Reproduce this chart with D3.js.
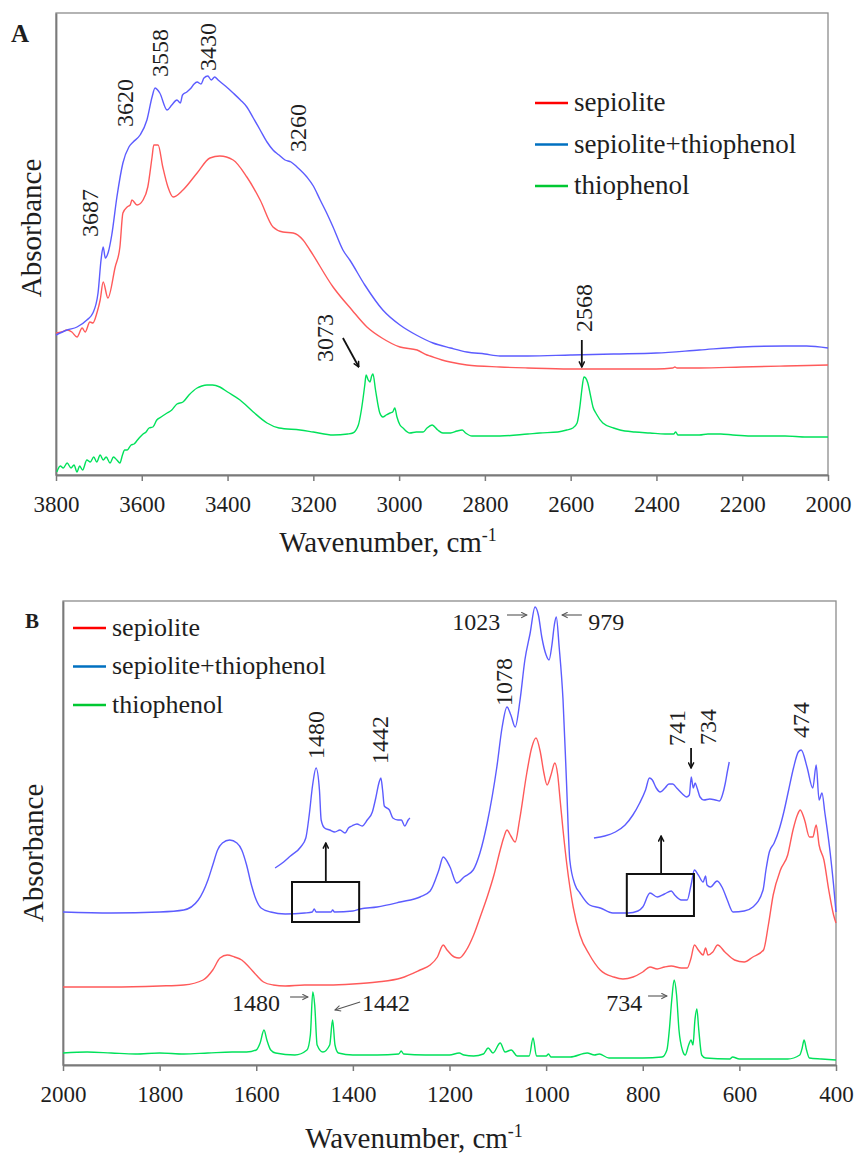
<!DOCTYPE html>
<html>
<head>
<meta charset="utf-8">
<script src="https://cdn.jsdelivr.net/npm/d3@7"></script>
<style>
  body { margin: 0; background: #fff; }
</style>
</head>
<body>
<svg id="chart" width="859" height="1153"></svg>
<script>
'use strict';

// series names and colours
const seriesNames = ['sepiolite', 'sepiolite+thiophenol', 'thiophenol'];
const lineColors = ['#ff5a5a', '#5c5cff', '#00e15a'];
const legendColors = ['#ff0000', '#0070c0', '#00c832'];

const ticksA = [3800, 3600, 3400, 3200, 3000, 2800, 2600, 2400, 2200, 2000];
const ticksB = [2000, 1800, 1600, 1400, 1200, 1000, 800, 600, 400];

// panel A: [wavenumber, absorbance a.u.]
const redA = [[3800,1.42],[3787,1.43],[3774,1.45],[3763,1.43],[3751,1.38],[3739,1.47],[3732,1.43],[3721,1.53],[3714,1.52],[3704,1.63],
  [3697,1.75],[3690,1.93],[3679,1.77],[3662,2.08],[3651,2.28],[3644,2.62],[3634,2.68],[3627,2.70],[3623,2.75],[3611,2.70],[3597,2.75],
  [3586,2.88],[3576,3.18],[3572,3.30],[3562,3.30],[3551,3.08],[3539,2.88],[3527,2.78],[3504,2.85],[3471,3.02],[3441,3.17],[3418,3.19],
  [3387,3.15],[3355,2.98],[3324,2.75],[3294,2.48],[3271,2.43],[3247,2.42],[3224,2.35],[3208,2.25],[3154,1.88],[3110,1.65],[3075,1.48],
  [3040,1.37],[2998,1.28],[2958,1.25],[2935,1.20],[2928,1.19],[2900,1.15],[2881,1.13],[2842,1.10],[2765,1.08],[2700,1.07],[2602,1.06],
  [2500,1.06],[2401,1.06],[2362,1.07],[2357,1.08],[2352,1.07],[2300,1.07],[2201,1.08],[2100,1.09],[2000,1.10]];

const blueA = [[3800,1.40],[3774,1.45],[3751,1.48],[3728,1.55],[3714,1.62],[3702,1.82],[3695,2.15],[3690,2.28],[3685,2.17],[3678,2.23],
  [3670,2.40],[3658,2.78],[3644,3.12],[3630,3.28],[3620,3.33],[3604,3.40],[3588,3.55],[3576,3.78],[3569,3.87],[3563,3.85],[3558,3.82],
  [3541,3.65],[3530,3.70],[3518,3.75],[3510,3.72],[3505,3.80],[3495,3.83],[3485,3.87],[3478,3.91],[3471,3.93],[3462,3.91],[3455,3.97],
  [3446,3.99],[3438,3.95],[3430,3.98],[3422,3.95],[3405,3.89],[3387,3.82],[3370,3.75],[3355,3.68],[3340,3.57],[3324,3.45],[3308,3.33],
  [3294,3.25],[3280,3.20],[3266,3.15],[3252,3.13],[3238,3.08],[3215,2.98],[3200,2.89],[3184,2.75],[3170,2.63],[3154,2.48],[3131,2.25],
  [3115,2.15],[3080,1.90],[3038,1.65],[2998,1.50],[2960,1.40],[2921,1.32],[2880,1.27],[2842,1.23],[2800,1.21],[2765,1.19],[2700,1.19],
  [2600,1.20],[2500,1.21],[2400,1.22],[2300,1.25],[2200,1.28],[2100,1.29],[2050,1.29],[2000,1.27]];

const greenA = [[3798,0.03],[3790,0.09],[3783,0.07],[3774,0.12],[3765,0.07],[3758,0.10],[3751,0.03],[3745,0.09],[3738,0.05],[3728,0.15],
  [3720,0.13],[3712,0.18],[3705,0.13],[3697,0.20],[3690,0.15],[3683,0.18],[3674,0.12],[3666,0.18],[3658,0.15],[3651,0.12],[3645,0.20],
  [3640,0.25],[3634,0.25],[3625,0.30],[3618,0.31],[3610,0.35],[3604,0.38],[3597,0.41],[3590,0.43],[3583,0.47],[3574,0.48],[3565,0.55],
  [3555,0.58],[3541,0.62],[3530,0.65],[3518,0.71],[3504,0.73],[3490,0.80],[3471,0.87],[3460,0.89],[3448,0.90],[3435,0.90],[3418,0.88],
  [3400,0.83],[3371,0.75],[3340,0.63],[3308,0.52],[3280,0.47],[3231,0.45],[3200,0.43],[3154,0.40],[3120,0.41],[3108,0.42],[3095,0.50],
  [3088,0.65],[3080,0.90],[3077,1.00],[3072,0.95],[3068,0.93],[3064,0.99],[3061,1.01],[3055,0.85],[3045,0.62],[3038,0.58],[3030,0.60],
  [3021,0.62],[3015,0.63],[3010,0.67],[3005,0.58],[2998,0.50],[2991,0.47],[2975,0.42],[2960,0.43],[2944,0.43],[2935,0.47],[2923,0.50],
  [2910,0.45],[2898,0.42],[2880,0.42],[2865,0.44],[2853,0.45],[2845,0.42],[2830,0.39],[2800,0.39],[2765,0.39],[2700,0.41],[2672,0.42],
  [2630,0.43],[2609,0.45],[2595,0.47],[2585,0.52],[2578,0.70],[2574,0.85],[2569,0.98],[2565,0.97],[2560,0.92],[2554,0.80],[2548,0.68],
  [2540,0.61],[2525,0.52],[2500,0.47],[2485,0.45],[2450,0.43],[2415,0.42],[2380,0.41],[2360,0.41],[2355,0.43],[2350,0.40],[2338,0.40],
  [2300,0.40],[2280,0.41],[2250,0.41],[2222,0.40],[2180,0.39],[2142,0.39],[2100,0.39],[2050,0.38],[2000,0.38]];

// panel B
const redB = [[2000,0.78],[1900,0.78],[1800,0.79],[1750,0.80],[1710,0.85],[1690,0.95],[1675,1.07],[1660,1.10],[1645,1.08],[1630,1.05],
  [1615,0.98],[1600,0.90],[1585,0.83],[1565,0.80],[1540,0.79],[1500,0.80],[1450,0.80],[1400,0.81],[1350,0.83],[1300,0.87],[1261,0.95],
  [1240,1.00],[1225,1.08],[1213,1.20],[1205,1.15],[1190,1.08],[1180,1.07],[1165,1.15],[1150,1.30],[1135,1.50],[1122,1.68],[1108,1.90],
  [1095,2.15],[1088,2.27],[1081,2.35],[1073,2.29],[1064,2.23],[1055,2.45],[1040,2.92],[1030,3.17],[1021,3.27],[1012,3.13],[1005,2.93],
  [998,2.80],[990,2.90],[982,3.02],[976,2.90],[971,2.65],[965,2.35],[957,2.00],[944,1.58],[930,1.30],[910,1.10],[888,0.95],[860,0.88],
  [841,0.86],[820,0.88],[800,0.93],[785,0.98],[770,0.96],[755,0.98],[741,0.99],[720,0.97],[708,0.97],[700,1.07],[693,1.20],[685,1.15],
  [675,1.10],[670,1.17],[665,1.10],[655,1.13],[645,1.20],[630,1.13],[610,1.05],[590,1.03],[572,1.08],[550,1.15],[540,1.40],[530,1.70],
  [515,1.95],[500,2.10],[489,2.35],[480,2.50],[474,2.55],[465,2.45],[455,2.28],[448,2.28],[441,2.40],[435,2.20],[425,2.05],[415,1.75],
  [405,1.50],[400,1.42]];

const blueB = [[2000,1.53],[1900,1.52],[1800,1.53],[1750,1.55],[1720,1.65],[1700,1.85],[1690,2.00],[1680,2.15],[1670,2.22],[1655,2.25],
  [1640,2.22],[1630,2.15],[1620,2.00],[1610,1.80],[1600,1.65],[1590,1.57],[1570,1.53],[1540,1.51],[1500,1.52],[1484,1.53],[1480,1.56],
  [1476,1.53],[1445,1.53],[1442,1.55],[1438,1.53],[1400,1.54],[1385,1.56],[1350,1.58],[1302,1.63],[1261,1.68],[1240,1.74],[1222,1.95],
  [1213,2.08],[1199,1.98],[1185,1.82],[1170,1.88],[1151,1.95],[1137,2.12],[1122,2.42],[1102,2.98],[1091,3.38],[1081,3.58],[1073,3.50],
  [1064,3.38],[1054,3.65],[1044,4.05],[1033,4.32],[1023,4.58],[1016,4.50],[1009,4.28],[1000,4.10],[994,4.05],[988,4.20],[983,4.40],
  [979,4.48],[973,4.18],[965,3.65],[958,2.85],[951,2.05],[940,1.80],[930,1.72],[910,1.60],[888,1.57],[862,1.52],[830,1.52],[810,1.54],
  [800,1.58],[785,1.72],[770,1.68],[755,1.71],[741,1.74],[734,1.70],[720,1.65],[708,1.65],[700,1.80],[693,1.95],[685,1.90],[675,1.83],
  [670,1.89],[667,1.80],[660,1.78],[646,1.84],[635,1.77],[625,1.65],[613,1.53],[590,1.54],[572,1.58],[551,1.75],[545,1.95],[538,2.13],
  [528,2.22],[518,2.35],[508,2.53],[498,2.75],[488,2.97],[478,3.13],[472,3.15],[460,2.98],[448,2.77],[441,3.00],[435,2.65],[429,2.72],
  [423,2.52],[412,2.12],[405,1.80],[400,1.53]];

const greenB = [[2000,0.12],[1950,0.13],[1900,0.12],[1850,0.11],[1800,0.12],[1750,0.11],[1700,0.12],[1650,0.13],[1620,0.13],[1600,0.15],
  [1592,0.22],[1584,0.35],[1578,0.25],[1570,0.15],[1560,0.12],[1520,0.10],[1495,0.15],[1488,0.30],[1483,0.73],[1479,0.60],[1474,0.20],
  [1462,0.13],[1448,0.20],[1442,0.45],[1437,0.20],[1430,0.12],[1400,0.10],[1350,0.10],[1305,0.11],[1300,0.14],[1295,0.11],[1250,0.10],
  [1200,0.10],[1180,0.12],[1170,0.10],[1150,0.09],[1130,0.11],[1120,0.17],[1110,0.12],[1095,0.22],[1085,0.13],[1072,0.15],[1060,0.09],
  [1035,0.09],[1027,0.27],[1020,0.09],[1000,0.09],[995,0.11],[990,0.08],[950,0.08],[915,0.12],[900,0.10],[890,0.11],[870,0.07],[800,0.07],
  [760,0.08],[750,0.15],[745,0.35],[740,0.65],[735,0.85],[730,0.70],[725,0.35],[718,0.15],[712,0.10],[705,0.20],[700,0.25],[696,0.20],
  [692,0.45],[688,0.56],[684,0.35],[678,0.10],[670,0.07],[620,0.06],[614,0.08],[600,0.06],[500,0.06],[475,0.10],[470,0.17],[466,0.25],
  [461,0.15],[455,0.07],[430,0.06],[400,0.05]];

// magnified insets of the sepiolite+thiophenol curve (relative units)
const insetB1 = [[1504,0.02],[1499,0.08],[1495,0.14],[1489,0.23],[1486,0.32],[1484,0.55],[1482,0.85],[1480,1.02],[1478,0.80],[1477,0.50],
  [1475,0.42],[1472,0.40],[1469,0.38],[1466,0.40],[1463,0.37],[1461,0.42],[1459,0.44],[1456,0.46],[1453,0.44],[1450,0.50],[1447,0.58],
  [1445,0.72],[1443,0.88],[1442,0.92],[1441,0.80],[1440,0.64],[1437,0.60],[1435,0.52],[1432,0.50],[1430,0.50],[1428,0.44],[1426,0.50],
  [1425,0.52]];
const insetB2 = [[842,0.02],[831,0.04],[820,0.08],[810,0.15],[802,0.25],[795,0.37],[789,0.50],[785,0.62],[782,0.60],[778,0.52],
  [774,0.48],[769,0.52],[765,0.56],[761,0.56],[757,0.52],[751,0.46],[747,0.43],[744,0.45],[742,0.63],[740,0.52],[738,0.57],[736,0.52],
  [733,0.43],[729,0.40],[723,0.41],[717,0.40],[713,0.39],[710,0.45],[707,0.57],[705,0.68],[703,0.78]];

const svg = d3.select('#chart');
const fontFam = '"Liberation Serif", "Times New Roman", serif';

function serif(sel, size) {
  return sel.style('font-family', fontFam).style('font-size', size + 'px').style('fill', '#1e1e1e');
}

const defs = svg.append('defs');
[['arrowBlack', '#111', 1.6], ['arrowGray', '#555', 1.1]].forEach(function (m) {
  defs.append('marker').attr('id', m[0]).attr('viewBox', '0 0 10 10').attr('refX', 9).attr('refY', 5)
    .attr('markerWidth', 7).attr('markerHeight', 7).attr('markerUnits', 'userSpaceOnUse').attr('orient', 'auto')
    .append('path').attr('d', 'M1,1 L9,5 L1,9').attr('fill', 'none').attr('stroke', m[1]).attr('stroke-width', m[2] * 1.3);
});

function drawPanel(o) {
  const x = d3.scaleLinear().domain(o.xDomain).range([o.left, o.right]);
  const y = d3.scaleLinear().domain([0, o.yMax]).range([o.bottom, o.top]);
  const g = svg.append('g');

  g.append('rect').attr('x', o.left).attr('y', o.top).attr('width', o.right - o.left).attr('height', o.bottom - o.top)
    .attr('fill', 'none').attr('stroke', '#8c8c8c').attr('stroke-width', 1.3);

  const ax = g.append('g').attr('transform', 'translate(0,' + o.bottom + ')')
    .call(d3.axisBottom(x).tickValues(o.ticks).tickFormat(d3.format('d')).tickSize(6).tickSizeOuter(0).tickPadding(15));
  ax.select('.domain').attr('stroke', '#7a7a7a').attr('stroke-width', 1.8);
  ax.selectAll('.tick line').attr('stroke', '#7a7a7a').attr('stroke-width', 1.5);
  serif(ax.selectAll('.tick text'), 23);

  const ay = g.append('g').attr('transform', 'translate(' + o.left + ',0)')
    .call(d3.axisLeft(y).tickValues([]).tickSizeOuter(0));
  ay.select('.domain').attr('stroke', '#7a7a7a').attr('stroke-width', 1.8);

  const line = d3.line().x(function (d) { return x(d[0]); }).y(function (d) { return y(d[1]); }).curve(d3.curveMonotoneX);
  [2, 0, 1].forEach(function (i) {
    g.append('path').datum(o.series[i]).attr('d', line).attr('fill', 'none')
      .attr('stroke', lineColors[i]).attr('stroke-width', 1.4).attr('stroke-linejoin', 'round');
  });

  // insets
  (o.insets || []).forEach(function (ins) {
    const xi = d3.scaleLinear().domain(ins.domain).range([x(ins.from), x(ins.to)]);
    const yi = d3.scaleLinear().domain([0, 1]).range([y(ins.base), y(ins.base + 1)]);
    const li = d3.line().x(function (d) { return xi(d[0]); }).y(function (d) { return yi(d[1]); }).curve(d3.curveMonotoneX);
    g.append('path').datum(ins.data).attr('d', li).attr('fill', 'none').attr('stroke', lineColors[1]).attr('stroke-width', 1.4);
  });

  (o.boxes || []).forEach(function (b) {
    g.append('rect').attr('x', x(b.w1)).attr('y', y(b.v1)).attr('width', x(b.w2) - x(b.w1)).attr('height', y(b.v2) - y(b.v1))
      .attr('fill', 'none').attr('stroke', '#111').attr('stroke-width', 2);
  });

  o.arrows.forEach(function (a) {
    g.append('line').attr('x1', x(a.w1)).attr('y1', y(a.v1)).attr('x2', x(a.w2)).attr('y2', y(a.v2))
      .attr('stroke', a.gray ? '#555' : '#111').attr('stroke-width', a.gray ? 1.1 : 1.8)
      .attr('marker-end', a.gray ? 'url(#arrowGray)' : 'url(#arrowBlack)');
  });

  o.labels.forEach(function (l) {
    const t = serif(g.append('text'), 24).attr('dy', '0.35em').text(l.t);
    if (l.rot) {
      t.attr('transform', 'translate(' + x(l.w) + ',' + y(l.v) + ') rotate(-90)').attr('text-anchor', 'middle');
    } else {
      t.attr('x', x(l.w)).attr('y', y(l.v)).attr('text-anchor', l.anchor || 'start');
    }
  });

  // legend
  seriesNames.forEach(function (n, i) {
    const ly = o.legend.y + i * o.legend.dy;
    g.append('line').attr('x1', o.legend.x).attr('x2', o.legend.x + 33).attr('y1', ly).attr('y2', ly)
      .attr('stroke', legendColors[i]).attr('stroke-width', 2.4);
    serif(g.append('text'), o.legend.fs).attr('x', o.legend.x + 39).attr('y', ly).attr('dy', '0.3em').text(n);
  });

  // panel letter and axis titles
  serif(g.append('text'), o.letter[2]).attr('x', o.letter[0]).attr('y', o.letter[1]).style('font-weight', 'bold').text(o.name);
  serif(g.append('text'), 29).attr('transform', 'translate(' + o.yTitle[0] + ',' + o.yTitle[1] + ') rotate(-90)')
    .attr('text-anchor', 'middle').text('Absorbance');
  const xt = serif(g.append('text'), 29).attr('x', o.xTitle[0]).attr('y', o.xTitle[1]).attr('text-anchor', 'middle');
  xt.append('tspan').text('Wavenumber, cm');
  xt.append('tspan').style('font-size', '18px').attr('dy', -11).text('-1');
}

drawPanel({
  name: 'A', xDomain: [3800, 2000], yMax: 4.62, left: 56, right: 828, top: 13, bottom: 475,
  ticks: ticksA, series: [redA, blueA, greenA],
  legend: { x: 535, y: 103, dy: 41.5, fs: 27 },
  letter: [11, 42, 25], yTitle: [41, 228], xTitle: [388, 552],
  labels: [
    { t: '3687', w: 3721, v: 2.62, rot: true }, { t: '3620', w: 3639, v: 3.72, rot: true },
    { t: '3558', w: 3558, v: 4.22, rot: true }, { t: '3430', w: 3446, v: 4.28, rot: true },
    { t: '3260', w: 3236, v: 3.47, rot: true }, { t: '3073', w: 3173, v: 1.37, rot: true },
    { t: '2568', w: 2569, v: 1.67, rot: true }
  ],
  arrows: [
    { w1: 3131, v1: 1.37, w2: 3094, v2: 1.08 },
    { w1: 2574, v1: 1.35, w2: 2574, v2: 1.08 }
  ]
});

drawPanel({
  name: 'B', xDomain: [2000, 400], yMax: 4.64, left: 63, right: 836, top: 601, bottom: 1065,
  ticks: ticksB, series: [redB, blueB, greenB],
  legend: { x: 73, y: 628, dy: 38.5, fs: 26 },
  letter: [25, 628, 21], yTitle: [43, 853], xTitle: [414, 1148],
  insets: [
    { data: insetB1, domain: [1504, 1425], from: 1561, to: 1282, base: 1.95 },
    { data: insetB2, domain: [842, 703], from: 901, to: 621, base: 2.25 }
  ],
  boxes: [{ w1: 1526, v1: 1.83, w2: 1387, v2: 1.43 }, { w1: 833, v1: 1.91, w2: 694, v2: 1.49 }],
  labels: [
    { t: '1023', w: 1095, v: 4.43, anchor: 'end' }, { t: '979', w: 913, v: 4.43 },
    { t: '1078', w: 1089, v: 3.83, rot: true }, { t: '741', w: 729, v: 3.37, rot: true },
    { t: '734', w: 665, v: 3.38, rot: true }, { t: '474', w: 474, v: 3.45, rot: true },
    { t: '1480', w: 1478, v: 3.30, rot: true }, { t: '1442', w: 1344, v: 3.25, rot: true },
    { t: '1480', w: 1551, v: 0.62, anchor: 'end' }, { t: '1442', w: 1381, v: 0.62 },
    { t: '734', w: 801, v: 0.62, anchor: 'end' }
  ],
  arrows: [
    { w1: 1081, v1: 4.50, w2: 1040, v2: 4.50, gray: true },
    { w1: 926, v1: 4.50, w2: 967, v2: 4.50, gray: true },
    { w1: 700, v1: 3.17, w2: 700, v2: 2.97 },
    { w1: 1456, v1: 1.83, w2: 1456, v2: 2.22 },
    { w1: 762, v1: 1.91, w2: 762, v2: 2.29 },
    { w1: 1530, v1: 0.68, w2: 1493, v2: 0.68, gray: true },
    { w1: 1385, v1: 0.63, w2: 1437, v2: 0.55, gray: true },
    { w1: 789, v1: 0.69, w2: 750, v2: 0.69, gray: true }
  ]
});
</script>
</body>
</html>
